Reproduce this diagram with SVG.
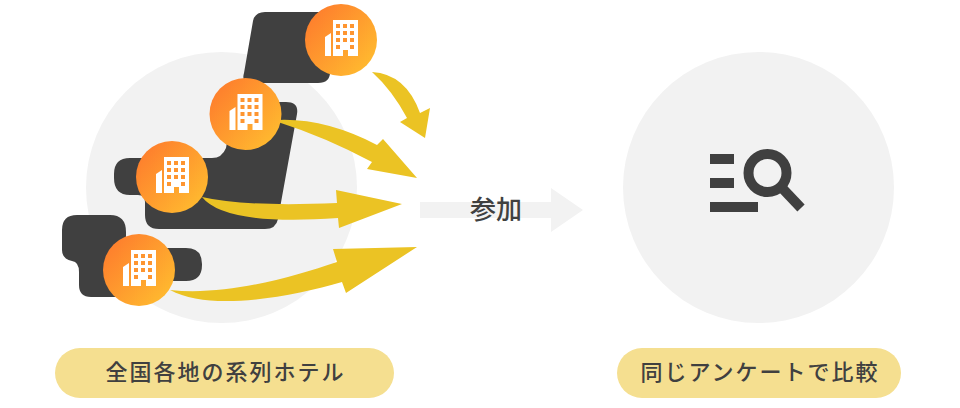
<svg xmlns="http://www.w3.org/2000/svg" width="960" height="408" viewBox="0 0 960 408">
<style>
.bg{fill:#f2f2f2}.land{fill:#404040}.arr{fill:#ebc324}.pill{fill:#f5df90}.w{fill:#fff}
text{font-family:"Noto Sans CJK JP","Noto Sans",sans-serif;font-weight:500;fill:#404040;text-anchor:middle}
.lab{font-size:22px;letter-spacing:2px}
</style>
<defs>
<linearGradient id="og" x1="0.1" y1="0.15" x2="0.9" y2="0.85"><stop offset="0" stop-color="#fe7f2d"/><stop offset="1" stop-color="#ffb92f"/></linearGradient>
<g id="hotel">
<circle r="36" fill="url(#og)"/>
<path class="w" d="M-8-20H17V16H7V10H2V16H-8ZM-16 16V-3L-10-7V16Z"/>
<g fill="#fe9530"><rect x="-5" y="-16" width="4" height="4"/><rect x="2" y="-16" width="4" height="4"/><rect x="9" y="-16" width="4" height="4"/><rect x="-5" y="-9" width="4" height="4"/><rect x="2" y="-9" width="4" height="4"/><rect x="9" y="-9" width="4" height="4"/><rect x="-5" y="-2" width="4" height="4"/><rect x="2" y="-2" width="4" height="4"/><rect x="9" y="-2" width="4" height="4"/><rect x="-5" y="5" width="4" height="4"/><rect x="9" y="5" width="4" height="4"/></g>
</g>
</defs>
<circle class="bg" cx="221.500" cy="187.500" r="135.500"/>
<circle class="bg" cx="758.500" cy="187.500" r="135.500"/>
<g id="map">
<path class="land" d="M265 12H330V72Q330 83 318 83H251Q241 83 244 73L253 21Q255 12 265 12Z"/>
<path class="land" d="M240 102H286Q299 102 297 114L278 219Q276 229 265 229H159Q145 229 145 215V202Q145 195 138 195H130Q114 195 114 178V174Q114 158 130 158H212Q222 158 226 148L232 112Z"/>
<path class="land" d="M77 215H110Q126 215 126 232V248H186Q202 248 202 264V265Q202 281 186 281H130V297H91Q79 297 79 285V272Q79 262 72 261Q62 259 62 250V230Q62 215 77 215Z"/>
</g>
<g id="connectors">
<path class="arr" d="M372 72Q406 74 420 113L430 108L425 138L400 122L407 118Q392 90 372 72Z"/>
<path class="arr" d="M278 120Q325 118 377 145L383 139L417 178L367 169L372 162Q325 137 278 122Z"/>
<path class="arr" d="M202 197Q245 207 337 203L336 190L402 204L339 228L338 218Q225 226 202 197Z"/>
<path class="arr" d="M170 290C225 296 290 278 337 262L333 249L417 247L346 293L342 282C290 297 210 312 170 290Z"/>
<path class="bg" d="M420 202H551V188L583 210L551 232V218H420Z"/>
</g>
<g id="hotel-1"><use href="#hotel" x="341" y="40"/></g>
<g id="hotel-2"><use href="#hotel" x="245.500" y="114"/></g>
<g id="hotel-3"><use href="#hotel" x="172" y="177"/></g>
<g id="hotel-4"><use href="#hotel" x="139" y="270"/></g>
<g id="join-label"><text x="496" y="219" font-size="26">参加</text></g>
<g id="compare-icon">
<rect class="land" x="710" y="154" width="24" height="10"/>
<rect class="land" x="710" y="178" width="24" height="10"/>
<rect class="land" x="710" y="202" width="48" height="10"/>
<circle cx="767.500" cy="173" r="19" fill="none" stroke="#404040" stroke-width="10"/>
<path d="M783 189L801 208" fill="none" stroke="#404040" stroke-width="10"/>
</g>
<g id="label-left"><rect class="pill" x="55" y="348" width="339" height="50" rx="25"/><text class="lab" x="225.500" y="380">全国各地の系列ホテル</text></g>
<g id="label-right"><rect class="pill" x="617" y="348" width="284" height="50" rx="25"/><text class="lab" x="760" y="380">同じアンケートで比較</text></g>
</svg>
